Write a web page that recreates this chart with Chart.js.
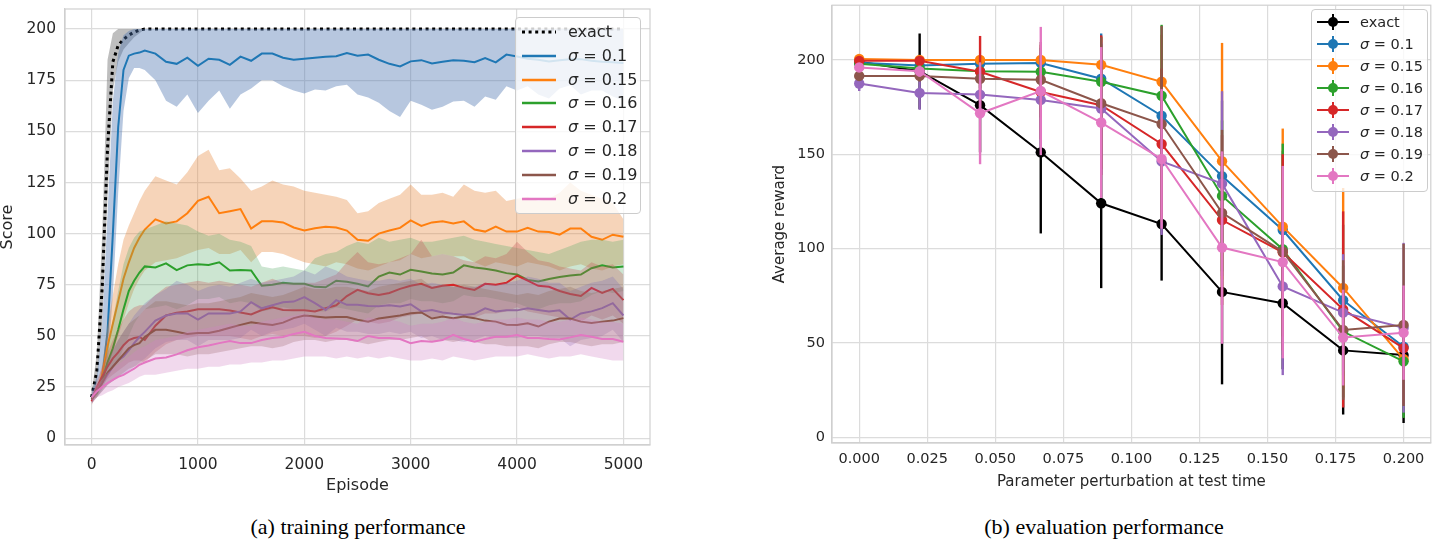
<!DOCTYPE html>
<html>
<head>
<meta charset="utf-8">
<script src="https://cdn.jsdelivr.net/npm/chart.js@4.4.0/dist/chart.umd.min.js"></script>
<style>
  body { margin: 0; background: #fff; width: 1436px; height: 547px; position: relative; overflow: hidden;
         font-family: 'DejaVu Sans', sans-serif; color: #262626; }
  canvas { position: absolute; top: 0; }
  .legend { position: absolute; background: rgba(255,255,255,0.8); border: 1px solid #cccccc;
            border-radius: 4px; box-sizing: border-box; }
  .row { position: absolute; left: 0; height: 20px; width: 100%; white-space: nowrap; }
  .row svg { position: absolute; top: 0; }
  .row span { position: absolute; top: 0; line-height: 20px; }
  .caption { position: absolute; top: 514px; line-height: 26px; font-family: 'Liberation Serif', serif;
             font-size: 22px; color: #000; transform: translateX(-50%); white-space: nowrap; }
</style>
</head>
<body>
<canvas id="train" width="660" height="500" style="left:0"></canvas>
<canvas id="evalc" width="716" height="500" style="left:720px"></canvas>
<div id="leg1" class="legend" style="left:515px;top:17px;width:126px;height:197px"></div>
<div id="leg2" class="legend" style="left:1311px;top:9px;width:117px;height:183px"></div>
<div class="caption" style="left:358px">(a) training performance</div>
<div class="caption" style="left:1104px">(b) evaluation performance</div>
<script>
// ---- training performance (episodes) ----
const episodes = [0,50,100,150,200,250,300,350,400,450,500,
  600,700,800,900,1000,1100,1200,1300,1400,1500,
  1600,1700,1800,1900,2000,2100,2200,2300,2400,2500,
  2600,2700,2800,2900,3000,3100,3200,3300,3400,3500,
  3600,3700,3800,3900,4000,4100,4200,4300,4400,4500,
  4600,4700,4800,4900,5000];
const episodeTicks = [0, 1000, 2000, 3000, 4000, 5000];
const scoreTicks = [0, 25, 50, 75, 100, 125, 150, 175, 200];
const sigmas = ['0.1', '0.15', '0.16', '0.17', '0.18', '0.19', '0.2'];

const exactMean = [20,33,74,142,184,192,195,197,198.5,199.5,200,
  200,200,200,200,200,200,200,200,200,200,
  200,200,200,200,200,200,200,200,200,200,
  200,200,200,200,200,200,200,200,200,200,
  200,200,200,200,200,200,200,200,200,200,
  200,200,200,200,200];
const exactLo = [18,27,55,118,170,184,190,193,196,198,200,
  200,200,200,200,200,200,200,200,200,200,
  200,200,200,200,200,200,200,200,200,200,
  200,200,200,200,200,200,200,200,200,200,
  200,200,200,200,200,200,200,200,200,200,
  200,200,200,200,200];
const exactHi = [22,42,100,185,198,200,200,200,200,200,200,
  200,200,200,200,200,200,200,200,200,200,
  200,200,200,200,200,200,200,200,200,200,
  200,200,200,200,200,200,200,200,200,200,
  200,200,200,200,200,200,200,200,200,200,
  200,200,200,200,200];

const s010Mean = [20,24,30,52,100,152,180,187,188,188.5,189.5,
  188,184,183,186,182,185.5,185,182.5,186.5,184.5,
  188,188,186,185,185.5,186,186.5,186.7,188.3,187,
  187.5,185,183,181.7,184.2,184.8,183.2,184,184.7,184.5,
  183.8,185.8,183.7,187.5,186.6,185.5,185,184.2,184.8,185.2,
  185.3,184.5,184,183.8,183.4];
const s010Lo = [18,21,25,35,70,120,160,176,181,181,180,
  175,165,162,168,159,165,170,161,168,171,
  175,175,172,170,168.5,170.5,170,172,172.8,168,
  166.5,164,160,157,165,163,160.5,162,164.6,165,
  162,167,165.4,172,170,172,168,166,171,172.5,
  168,170,170,167,165];
const s010Hi = [23,30,55,110,165,188,197,199,200,200,200,
  200,200,200,200,200,200,200,200,200,200,
  200,200,200,200,200,200,200,200,200,200,
  200,200,200,200,200,200,200,200,200,200,
  200,200,200,200,200,200,200,200,200,200,
  200,200,200,200,200];

const s015Mean = [20,22,31,45,56,67,78,86,93,98,102,
  107,105,106,110,116,118,110,111,112,102.5,
  106,106,105.5,103,101.5,102.6,103.4,103,101.5,97,
  96.5,100,101.5,102.8,106.5,103.8,105.5,106,105,106,
  102,101,103.5,101,101,102.8,101,100.8,99.5,102.5,
  102.5,98.5,97,99.5,98.5];
const s015Lo = [19,20,26,35,42,50,58,66,73,78,82,
  86,87,88,90,92,93,90,90,92,86,
  91,91,90,88,86,85,84,86,85,83,
  82,84,86,87,90,88,89,90,89,89,
  86,84,86,85,84,86,85,84,82,84,
  85,83,82,84,85];
const s015Hi = [21,24,36,55,70,85,97,104,110,116,121,
  128,126,124,130,138,141,131,132,127,121,
  123,126,124,123,121,120,119,118,116.5,110,
  111,115,117,119,124,119,119,120,118,124,
  121,120,121,116,117,118,116,117,120,125,
  121,119,117,115,107];

const s016Mean = [20,22,28,37,44,53,63,72,77,81,84,
  83.5,85.5,82.2,84.5,85,84.7,86,82,82.2,82,
  74.5,75,76,75.5,75.5,74,73.8,77,76.5,75.5,
  74.2,79,81,80,82.3,81.5,80.5,80,81,84.5,
  83.5,82.8,82,80.7,80,77.4,76.6,77.8,78.8,79.5,
  80,83.1,84.5,83.5,84];
const s016Lo = [19,20,24,30,34,38,44,50,56,60,63,
  64,65,63,65,68,68,69,66,67,66,
  62,63,64,63,63,62,62,64,63,62,
  61,65,66,66,68,67,67,66,67,70,
  69,69,68,67,66,64,63,65,66,66,
  67,70,72,71,72];
const s016Hi = [21,24,32,45,58,72,85,93,98,101,102,
  104,106,105,104,101,99,100,97,96,94,
  84,83,84,83,82,88,90,91,94,96,
  95,98,96,97,98,96,96,97,98,99,
  97,96,95,94,93,92,91,90,92,94,
  96,97,97,96,97];

const s017Mean = [18,25,30,35,39,42,45.5,48,49,49.5,48,
  55,60,61.4,62,63,63,63,62.4,61.5,60.5,
  62.7,64,62.7,62.5,62.5,62,63.5,65,69.5,72.5,
  70.9,70,71,73,74.5,75.5,73.5,74.5,75,73.5,
  72.5,75.5,75,76,79.5,77,74.5,74,72,70.5,
  69.5,73.5,71,73,67.5];
const s017Lo = [16,22,26,29,31,33,35,37,38,38,37,
  42,46,48,49,50,50,50,50,49,48,
  50,51,50,50,50,49,50,52,55,58,
  57,56,57,59,60,61,59,60,61,60,
  59,61,61,62,64,62,61,60,59,58,
  57,60,58,60,56];
const s017Hi = [20,28,35,42,48,53,58,62,64,65,65,
  70,74,75,76,77,76,77,76,75,74,
  76,78,76,76,76,76,78,80,86,91,
  86,85,86,88,90,97,89,90,89,87,
  86,89,88,90,96,91,87,86,84,83,
  82,86,84,85,80];

const s018Mean = [19,23,27,31,35,38,40,43,46.5,49.5,52,
  57.5,60,61,61,58,61,61,61,62,66.5,
  63.5,65,66.5,66.8,69,66,62.7,67.5,65.2,65.2,
  64.6,64.5,65,64.4,65.5,62,62.7,61.5,60.8,60.3,
  60.8,63.5,62,62.5,62.5,63.5,62.7,62,62.5,58,
  61,62,63.6,66,60];
const s018Lo = [17,20,23,26,28,30,31,33,35,37,39,
  44,47,48,48,45,48,48,48,49,53,
  50,52,53,54,56,53,50,54,52,52,
  51,51,52,51,52,49,50,48,48,47,
  48,50,49,49,49,50,50,49,49,45,
  48,49,50,53,47];
const s018Hi = [21,26,31,37,43,48,52,56,60,63,66,
  70,73,77,75,72,74,75,74,76,78,
  76,77,78,79,82,80,84,82,79,78,
  77,77,78,77,78,75,76,75,74,74,
  74,76,75,76,77,79,78,76,76,72,
  74,76,77,79,73];

const s019Mean = [19,23,27,32,35,38,41,44,45.5,46.5,49.5,
  53,53,52,51,51.5,51.5,52.5,54,55.4,56.7,
  56,55.4,56.5,58.7,60,59.5,59,59.3,59.3,57.9,
  57,58.5,59.3,60,61.1,61.5,58.5,59.5,58.7,59.5,
  58.7,57.5,57,55.5,55.4,56.2,54.6,57,58.5,58.5,
  57,56.3,57,57.5,58.7];
const s019Lo = [17,20,23,26,28,30,32,34,35,36,38,
  41,41,41,40,41,41,42,43,44,45,
  45,44,45,47,48,48,47,48,48,47,
  46,47,48,48,49,50,47,48,47,48,
  47,46,46,45,45,45,44,46,47,47,
  46,45,46,46,47];
const s019Hi = [21,26,31,38,43,48,52,56,58,60,63,
  67,67,66,65,66,66,67,68,69,71,
  70,69,70,72,74,73,73,74,74,73,
  72,74,75,76,77,78,74,75,74,75,
  74,73,72,71,70,71,70,72,73,74,
  72,71,72,73,74];

const s020Mean = [20,23,25,27,28.5,30,31,32.5,34,35.9,37,
  39,39.5,41,43,44.5,45.3,46.5,47.5,46.5,46.5,
  48,49,49.5,51,52,50,49,48.8,48.5,47.5,
  50,49,49,48.5,46.5,47.5,47.2,48,50.5,48.5,
  47.2,48.5,49.6,49.6,50.5,49,49,48.5,48.3,49.3,
  50.5,49.6,48.5,48.5,47.2];
const s020Lo = [17,20,21,22.5,23.5,25,26,27,28.5,30,31,
  31,32,33,34,34,35,35,36,36,37,
  37,38,38,39,40,40,40,39,40,39,
  40,39,40,39,38,38,39,38,40,39,
  38,39,40,40,40,41,40,39,40,40,
  41,40,39,38,38];
const s020Hi = [22,26,29,32,34,36,38,40,42,44,45,
  48,49,50,52,53,54,55,56,55,55,
  57,58,59,60,61,59,58,58,57,56,
  59,58,58,57,55,56,56,57,59,57,
  56,57,58,58,59,58,58,57,57,58,
  59,58,57,57,56];

// ---- evaluation performance (perturbation) ----
const perturb = [0, 0.0222, 0.0444, 0.0667, 0.0889, 0.1111, 0.1333, 0.1556, 0.1778, 0.2];
const perturbTicks = [0, 0.025, 0.05, 0.075, 0.1, 0.125, 0.15, 0.175, 0.2];
const rewardTicks = [0, 50, 100, 150, 200];

const evalExact = [199, 194, 176, 151, 124, 113, 77, 71, 46, 43.5];
const evalExactErr = [1, 20, 25, 43, 45, 30, 49, 35, 34, 36];
const eval010 = [198.5, 197, 198, 198.4, 190, 170.4, 138.4, 109.8, 72.6, 47.9];
const eval010Err = [2, 3, 4, 8, 24, 25, 40, 42, 40, 25];
const eval015 = [200.5, 200, 200, 200, 197.4, 188.4, 146.3, 111.6, 79.1, 41.4];
const eval015Err = [1, 1, 2, 3, 15, 25, 62.7, 52, 53, 25];
const eval016 = [198, 195.5, 194, 193.7, 188.4, 181, 127.9, 99.6, 56, 40.2];
const eval016Err = [2, 3, 5, 6, 20, 37.6, 40, 56, 35, 30];
const eval017 = [199.5, 199.5, 193.7, 183, 176, 155.4, 115.1, 98, 67.7, 47.2];
const eval017Err = [2, 2, 19, 25, 37, 40, 45, 52, 52, 30];
const eval018 = [187.5, 182.5, 181.6, 178.8, 174.2, 146.2, 134.4, 79.9, 66, 58];
const eval018Err = [4, 9, 10, 25, 35, 39, 49, 47, 31, 45];
const eval019 = [191.5, 191.5, 190, 189.5, 177, 166, 118.9, 98.4, 56.8, 59.5];
const eval019Err = [2, 3, 5, 20, 35, 52, 44, 45, 37, 43];
const eval020 = [196, 194, 171.7, 183.5, 166.8, 147.5, 100.5, 92.8, 52.8, 55.4];
const eval020Err = [2, 3, 27, 34, 40, 37, 51, 51, 25.4, 25];

const textColor = '#262626';
const gridColor = '#dcdcdc';
const frameColor = '#d0d0d0';
const lineColors = ['#000000', '#1f77b4', '#ff7f0e', '#2ca02c', '#d62728', '#9467bd', '#8c564b', '#e377c2'];
const bandColors = ['rgba(110,110,110,0.45)', 'rgba(76,114,176,0.4)', 'rgba(230,135,60,0.36)',
  'rgba(85,168,104,0.3)', 'rgba(196,78,82,0.3)', 'rgba(129,114,179,0.3)',
  'rgba(147,110,90,0.32)', 'rgba(210,130,195,0.3)'];

Chart.defaults.font.family = "'DejaVu Sans', sans-serif";
Chart.defaults.color = textColor;

const trainSeries = [
  [exactMean, exactLo, exactHi], [s010Mean, s010Lo, s010Hi], [s015Mean, s015Lo, s015Hi],
  [s016Mean, s016Lo, s016Hi], [s017Mean, s017Lo, s017Hi], [s018Mean, s018Lo, s018Hi],
  [s019Mean, s019Lo, s019Hi], [s020Mean, s020Lo, s020Hi]
];
trainSeries.forEach((s, i) => s.forEach(a => {
  if (a.length !== episodes.length) throw new Error('series ' + i + ' has ' + a.length + ' values');
}));

const toPts = arr => arr.map((v, i) => ({ x: episodes[i], y: v }));
const trainData = [];
trainSeries.forEach(([mean, lo, hi], i) => {
  trainData.push({ data: toPts(hi), borderColor: 'transparent', borderWidth: 0, pointRadius: 0, fill: false });
  trainData.push({ data: toPts(lo), borderColor: 'transparent', borderWidth: 0, pointRadius: 0,
    fill: '-1', backgroundColor: bandColors[i] });
  trainData.push({ data: toPts(mean), borderColor: lineColors[i], borderWidth: i === 0 ? 3 : 2,
    borderDash: i === 0 ? [3, 3.6] : [], pointRadius: 0, fill: false });
});
trainData.forEach((d, i) => { d.order = trainData.length - i; });

// light frame on all four sides, like the seaborn whitegrid spines
const frame = {
  id: 'frame',
  afterDatasetsDraw(chart) {
    const { ctx, chartArea: a } = chart;
    ctx.save();
    ctx.strokeStyle = frameColor;
    ctx.lineWidth = 1.2;
    ctx.strokeRect(a.left, a.top, a.right - a.left, a.bottom - a.top);
    ctx.restore();
  }
};

const fixedTicks = list => axis => { axis.ticks = list.map(v => ({ value: v })); };
// fixed axis box, no extra room reserved for overhanging labels
const fitX = h => a => { a.height = h; a.paddingLeft = 0; a.paddingRight = 0; };
const fitY = w => a => { a.width = w; a.paddingTop = 0; a.paddingBottom = 0; };

new Chart(document.getElementById('train'), {
  type: 'line',
  data: { datasets: trainData },
  plugins: [frame],
  options: {
    responsive: false,
    animation: false,
    layout: { padding: { top: 9, right: 10, left: 0, bottom: 0 } },
    plugins: { legend: { display: false }, tooltip: { enabled: false } },
    elements: { line: { tension: 0 } },
    scales: {
      x: {
        type: 'linear', min: -250, max: 5250,
        afterBuildTicks: fixedTicks(episodeTicks),
        afterFit: fitX(55),
        grid: { color: gridColor, lineWidth: 1.2, drawTicks: false },
        border: { color: frameColor, width: 1.2 },
        ticks: { padding: 11, font: { size: 15.5 }, color: textColor, maxRotation: 0, autoSkip: false,
                 callback: v => String(v) },
        title: { display: true, text: 'Episode', color: textColor,
                 font: { size: 16, lineHeight: 1 }, padding: { top: 0, bottom: 6 } }
      },
      y: {
        type: 'linear', min: -3.3, max: 209.8,
        afterBuildTicks: fixedTicks(scoreTicks),
        afterFit: fitY(65),
        grid: { color: gridColor, lineWidth: 1.2, drawTicks: false },
        border: { color: frameColor, width: 1.2 },
        ticks: { padding: 9, font: { size: 15.5 }, color: textColor, autoSkip: false,
                 callback: v => String(v) },
        title: { display: true, text: 'Score', color: textColor,
                 font: { size: 16, lineHeight: 1 }, padding: { top: 0, bottom: 0 } }
      }
    }
  }
});

// ---- evaluation chart with vertical error bars ----
const evalSeries = [
  [evalExact, evalExactErr], [eval010, eval010Err], [eval015, eval015Err], [eval016, eval016Err],
  [eval017, eval017Err], [eval018, eval018Err], [eval019, eval019Err], [eval020, eval020Err]
];
const evalData = evalSeries.map(([vals, errs], i) => ({
  data: perturb.map((x, k) => ({ x: x, y: vals[k] })),
  errs: errs,
  borderColor: lineColors[i], backgroundColor: lineColors[i],
  borderWidth: 2, pointRadius: 5.2, pointBorderWidth: 0, pointHoverRadius: 5.2, fill: false,
  order: evalSeries.length - i
}));

const errorBars = {
  id: 'errorBars',
  beforeDatasetDraw(chart, args) {
    const ds = chart.data.datasets[args.index];
    if (!ds.errs) return;
    const { ctx, scales: { x, y } } = chart;
    ctx.save();
    ctx.strokeStyle = ds.borderColor;
    ctx.lineWidth = 2.4;
    ds.data.forEach((p, k) => {
      const px = x.getPixelForValue(p.x);
      ctx.beginPath();
      ctx.moveTo(px, y.getPixelForValue(p.y - ds.errs[k]));
      ctx.lineTo(px, y.getPixelForValue(p.y + ds.errs[k]));
      ctx.stroke();
    });
    ctx.restore();
  }
};

new Chart(document.getElementById('evalc'), {
  type: 'line',
  data: { datasets: evalData },
  plugins: [errorBars, frame],
  options: {
    responsive: false,
    animation: false,
    layout: { padding: { top: 2, right: 1, left: 0, bottom: 0 } },
    plugins: { legend: { display: false }, tooltip: { enabled: false } },
    elements: { line: { tension: 0 } },
    scales: {
      x: {
        type: 'linear', min: -0.01, max: 0.21,
        afterBuildTicks: fixedTicks(perturbTicks),
        afterFit: fitX(57),
        grid: { color: gridColor, lineWidth: 1.2, drawTicks: false },
        border: { color: frameColor, width: 1.2 },
        ticks: { padding: 8, font: { size: 14.5 }, color: textColor, maxRotation: 0, autoSkip: false,
                 callback: v => v.toFixed(3) },
        title: { display: true, text: 'Parameter perturbation at test time', color: textColor,
                 font: { size: 15, lineHeight: 1 }, padding: { top: 0, bottom: 10.5 } }
      },
      y: {
        type: 'linear', min: -3.1, max: 229,
        afterBuildTicks: fixedTicks(rewardTicks),
        afterFit: fitY(112),
        grid: { color: gridColor, lineWidth: 1.2, drawTicks: false },
        border: { color: frameColor, width: 1.2 },
        ticks: { padding: 7, font: { size: 14.5 }, color: textColor, autoSkip: false,
                 callback: v => String(v) },
        title: { display: true, text: 'Average reward', color: textColor,
                 font: { size: 15, lineHeight: 1 }, padding: { top: 52.5, bottom: 0 } }
      }
    }
  }
});

// ---- legends ----
const labelHtml = i => i === 0 ? 'exact' : '<i>σ</i> = ' + sigmas[i - 1];

function addRows(el, first, step, fontSize, textLeft, sample) {
  lineColors.forEach((c, i) => {
    const row = document.createElement('div');
    row.className = 'row';
    row.style.top = (first + step * i - 10) + 'px';
    row.innerHTML = sample(c, i) +
      '<span style="left:' + textLeft + 'px;font-size:' + fontSize + 'px">' + labelHtml(i) + '</span>';
    el.appendChild(row);
  });
}

addRows(document.getElementById('leg1'), 14, 23.8, 16, 52, (c, i) =>
  '<svg width="34" height="20" style="left:6px"><line x1="0" y1="10" x2="34" y2="10" stroke="' + c +
  '" stroke-width="' + (i === 0 ? 3 : 2.6) + '"' + (i === 0 ? ' stroke-dasharray="3 3.6"' : '') + '/></svg>');

addRows(document.getElementById('leg2'), 11.5, 22.1, 14.5, 48, c =>
  '<svg width="34" height="20" style="left:4px"><line x1="1" y1="10" x2="33" y2="10" stroke="' + c +
  '" stroke-width="2"/><line x1="17" y1="2" x2="17" y2="18" stroke="' + c +
  '" stroke-width="2"/><circle cx="17" cy="10" r="5" fill="' + c + '"/></svg>');
</script>
</body>
</html>
